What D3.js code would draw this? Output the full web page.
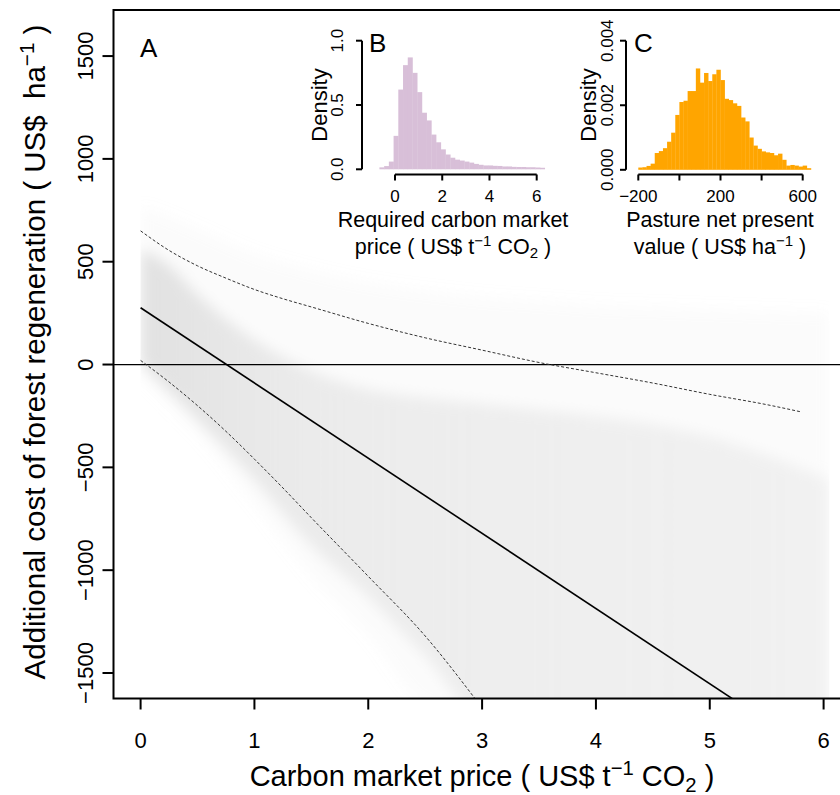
<!DOCTYPE html>
<html>
<head>
<meta charset="utf-8">
<script src="https://cdn.jsdelivr.net/npm/d3@7"></script>
<style>
    body { margin: 0; background: #fff; }
    svg { font-family: "Liberation Sans", Arial, sans-serif; }
    text { white-space: pre; }
</style>
</head>
<body>
<svg width="840" height="795"></svg>
<script>
// ---- panel A: point cloud, summarised per price column
const cloudX       = [0, 0.25, 0.5, 1, 1.5, 2, 2.5, 3, 3.5, 4, 4.5, 5, 5.5, 6.05];
const cloudOuterHi = [770, 720, 660, 540, 460, 400, 360, 330, 310, 290, 280, 270, 260, 250];
const cloudInnerHi = [560, 480, 340, 120, -30, -120, -160, -190, -220, -250, -290, -350, -440, -560];
const cloudInnerLo = [10, -130, -270, -560, -880, -1130, -1420, -1700, -1700, -1700, -1700, -1700, -1700, -1700];
const cloudOuterLo = [-60, -200, -340, -680, -1030, -1320, -1650, -1700, -1700, -1700, -1700, -1700, -1700, -1700];
const cloudDensity = [0.62, 0.6, 0.55, 0.46, 0.4, 0.37, 0.35, 0.33, 0.32, 0.3, 0.29, 0.28, 0.27, 0.25];

// fitted line and the two dashed bounds
const fitX = [0, 5.3];
const fitY = [276, -1662];
const upperX = [0, 0.25, 0.5, 0.75, 1, 1.25, 1.5, 2, 2.5, 3, 3.5, 4, 4.5, 5, 5.5, 5.8];
const upperY = [650, 555, 480, 420, 365, 320, 280, 200, 130, 70, 10, -40, -90, -145, -195, -230];
const lowerX = [0, 0.25, 0.5, 0.75, 1, 1.25, 1.5, 2, 2.5, 3];
const lowerY = [20, -85, -200, -325, -460, -600, -745, -1030, -1320, -1670];

const ticksAX = [0, 1, 2, 3, 4, 5, 6];
const ticksAY = [-1500, -1000, -500, 0, 500, 1000, 1500];

// ---- panel B: required carbon price histogram
const histBStart = -0.66;
const histBWidth = 0.2;
const histBDensity = [0.015, 0.025, 0.06, 0.26, 0.62, 0.81, 0.87, 0.75, 0.6, 0.44, 0.38, 0.27, 0.21,
    0.155, 0.115, 0.09, 0.075, 0.068, 0.06, 0.052, 0.042, 0.035, 0.03, 0.03, 0.027, 0.026, 0.022,
    0.022, 0.019, 0.018, 0.018, 0.016, 0.016, 0.014, 0.012];
const ticksBX = [0, 2, 4, 6];
const ticksBY = [0, 0.5, 1];
const labelsBY = ['0.0', '0.5', '1.0'];

// ---- panel C: pasture NPV histogram
const histCStart = -200;
const histCWidth = 20;
const histCDensity = [0.07, 0.08, 0.12, 0.19, 0.52, 0.58, 0.67, 0.87, 1.15, 1.7, 2.1, 2.14, 2.44, 2.44,
    3.14, 2.7, 3.0, 2.75, 2.96, 3.1, 2.78, 2.2, 2.16, 2.06, 1.98, 1.62, 1.5, 1.0, 0.75, 0.65, 0.57,
    0.54, 0.52, 0.45, 0.5, 0.31, 0.13, 0.15, 0.13, 0.1, 0.13, 0.05].map(d => d / 1000);
const ticksCX = [-200, 0, 200, 400, 600];
const labelsCX = ['\u2212200', '', '200', '', '600'];
const ticksCY = [0, 0.002, 0.004];
const labelsCY = ['0.000', '0.002', '0.004'];

const svg = d3.select('svg');
const defs = svg.append('defs');

// superscript / subscript helper
function richText(sel, parts, size) {
    let shift = 0;
    parts.forEach(p => {
        const target = p.sup ? -size * 0.38 : (p.sub ? size * 0.2 : 0);
        sel.append('tspan')
            .attr('dy', target - shift)
            .attr('font-size', (p.sup || p.sub) ? size * 0.7 : size)
            .text(p.text);
        shift = target;
    });
}

// ================= panel A =================
const x = d3.scaleLinear().domain([-0.238, 6.188]).range([113.5, 845]);
const y = d3.scaleLinear().domain([-1624, 1724]).range([698.5, 10]);

defs.append('clipPath').attr('id', 'clipA')
    .append('rect')
    .attr('x', x.range()[0]).attr('y', y.range()[1])
    .attr('width', x.range()[1] - x.range()[0])
    .attr('height', y.range()[0] - y.range()[1]);

// cloud only spans the simulated price range
defs.append('clipPath').attr('id', 'clipCloud')
    .append('rect')
    .attr('x', x(cloudX[0])).attr('y', y.range()[1])
    .attr('width', x(cloudX[cloudX.length - 1]) - x(cloudX[0]))
    .attr('height', y.range()[0] - y.range()[1]);

defs.append('filter').attr('id', 'soft')
    .attr('x', '-10%').attr('y', '-10%').attr('width', '120%').attr('height', '120%')
    .append('feGaussianBlur').attr('stdDeviation', 7);

const grad = defs.append('linearGradient')
    .attr('id', 'cloudGrad')
    .attr('gradientUnits', 'userSpaceOnUse')
    .attr('x1', x(cloudX[0])).attr('x2', x(cloudX[cloudX.length - 1]))
    .attr('y1', 0).attr('y2', 0);
grad.selectAll('stop')
    .data(cloudX)
    .enter()
    .append('stop')
    .attr('offset', d => (d - cloudX[0]) / (cloudX[cloudX.length - 1] - cloudX[0]))
    .attr('stop-color', '#d3d3d3')
    .attr('stop-opacity', (d, i) => cloudDensity[i]);

const plotA = svg.append('g').attr('clip-path', 'url(#clipA)');
const cloud = plotA.append('g').attr('clip-path', 'url(#clipCloud)')
    .append('g').attr('filter', 'url(#soft)');

const outerArea = d3.area()
    .x((d, i) => x(cloudX[i]))
    .y0((d, i) => y(cloudOuterLo[i]))
    .y1((d, i) => y(cloudOuterHi[i]))
    .curve(d3.curveMonotoneX);
const innerArea = d3.area()
    .x((d, i) => x(cloudX[i]))
    .y0((d, i) => y(cloudInnerLo[i]))
    .y1((d, i) => y(cloudInnerHi[i]))
    .curve(d3.curveMonotoneX);

cloud.append('path')
    .attr('d', outerArea(cloudX))
    .attr('fill', '#d3d3d3')
    .attr('fill-opacity', 0.1);
cloud.append('path')
    .attr('d', innerArea(cloudX))
    .attr('fill', 'url(#cloudGrad)');

// zero line
plotA.append('line')
    .attr('x1', x.range()[0]).attr('x2', x.range()[1])
    .attr('y1', y(0)).attr('y2', y(0))
    .attr('stroke', '#000')
    .attr('stroke-width', 1.3);

const lineGen = d3.line().curve(d3.curveMonotoneX);
plotA.append('path')
    .attr('d', lineGen(fitX.map((d, i) => [x(d), y(fitY[i])])))
    .attr('fill', 'none')
    .attr('stroke', '#000')
    .attr('stroke-width', 1.6);
plotA.append('path')
    .attr('d', lineGen(upperX.map((d, i) => [x(d), y(upperY[i])])))
    .attr('fill', 'none')
    .attr('stroke', '#333')
    .attr('stroke-width', 1)
    .attr('stroke-dasharray', '3,2');
plotA.append('path')
    .attr('d', lineGen(lowerX.map((d, i) => [x(d), y(lowerY[i])])))
    .attr('fill', 'none')
    .attr('stroke', '#333')
    .attr('stroke-width', 1)
    .attr('stroke-dasharray', '3,2');

// frame
svg.append('rect')
    .attr('x', x.range()[0]).attr('y', y.range()[1])
    .attr('width', x.range()[1] - x.range()[0])
    .attr('height', y.range()[0] - y.range()[1])
    .attr('fill', 'none')
    .attr('stroke', '#000')
    .attr('stroke-width', 2);

// axes of A
const axA = svg.append('g');
axA.selectAll('.xtick')
    .data(ticksAX)
    .enter()
    .append('line')
    .attr('x1', d => x(d)).attr('x2', d => x(d))
    .attr('y1', y.range()[0]).attr('y2', y.range()[0] + 11)
    .attr('stroke', '#000').attr('stroke-width', 2);
axA.selectAll('.xlab')
    .data(ticksAX)
    .enter()
    .append('text')
    .attr('x', d => x(d)).attr('y', 748)
    .attr('text-anchor', 'middle')
    .attr('font-size', 22)
    .text(d => d);
axA.selectAll('.ytick')
    .data(ticksAY)
    .enter()
    .append('line')
    .attr('x1', x.range()[0] - 11).attr('x2', x.range()[0])
    .attr('y1', d => y(d)).attr('y2', d => y(d))
    .attr('stroke', '#000').attr('stroke-width', 2);
axA.selectAll('.ylab')
    .data(ticksAY)
    .enter()
    .append('text')
    .attr('transform', d => 'translate(93,' + y(d) + ') rotate(-90)')
    .attr('text-anchor', 'middle')
    .attr('font-size', 22)
    .text(d => d < 0 ? '\u2212' + Math.abs(d) : d);

const xTitle = svg.append('text')
    .attr('x', 482).attr('y', 786)
    .attr('text-anchor', 'middle');
richText(xTitle, [
    { text: 'Carbon market price ( US$ t' }, { text: '\u22121', sup: true },
    { text: ' CO' }, { text: '2', sub: true }, { text: ' )' }
], 29);

const yTitle = svg.append('text')
    .attr('transform', 'translate(45,352) rotate(-90)')
    .attr('text-anchor', 'middle');
richText(yTitle, [
    { text: 'Additional cost of forest regeneration ( US$  ha' }, { text: '\u22121', sup: true },
    { text: ' )' }
], 29.5);

svg.append('text')
    .attr('x', 140).attr('y', 57)
    .attr('font-size', 26)
    .text('A');

// ================= inset helper =================
function inset(opt) {
    const g = svg.append('g');
    g.selectAll('rect')
        .data(opt.density)
        .enter()
        .append('rect')
        .attr('x', (d, i) => opt.x(opt.start + i * opt.width))
        .attr('width', (d, i) => opt.x(opt.start + (i + 1) * opt.width) - opt.x(opt.start + i * opt.width) + 0.3)
        .attr('y', d => opt.y(d))
        .attr('height', d => opt.y(0) - opt.y(d))
        .attr('fill', opt.color);

    const axY = opt.axisX;
    const axXpos = opt.axisY;
    const yT = opt.yTicks;
    g.append('line')
        .attr('x1', axY).attr('x2', axY)
        .attr('y1', opt.y(yT[0])).attr('y2', opt.y(yT[yT.length - 1]))
        .attr('stroke', '#000').attr('stroke-width', 2);
    g.selectAll('.yt')
        .data(yT)
        .enter()
        .append('line')
        .attr('x1', axY - 6).attr('x2', axY)
        .attr('y1', d => opt.y(d)).attr('y2', d => opt.y(d))
        .attr('stroke', '#000').attr('stroke-width', 2);
    g.selectAll('.yl')
        .data(yT)
        .enter()
        .append('text')
        .attr('transform', d => 'translate(' + opt.yLabelX + ',' + opt.y(d) + ') rotate(-90)')
        .attr('text-anchor', 'middle')
        .attr('font-size', 17)
        .text((d, i) => opt.yLabels[i]);

    const xT = opt.xTicks;
    g.append('line')
        .attr('x1', opt.x(xT[0])).attr('x2', opt.x(xT[xT.length - 1]))
        .attr('y1', axXpos).attr('y2', axXpos)
        .attr('stroke', '#000').attr('stroke-width', 2);
    g.selectAll('.xt')
        .data(xT)
        .enter()
        .append('line')
        .attr('x1', d => opt.x(d)).attr('x2', d => opt.x(d))
        .attr('y1', axXpos).attr('y2', axXpos + 6)
        .attr('stroke', '#000').attr('stroke-width', 2);
    g.selectAll('.xl')
        .data(xT)
        .enter()
        .append('text')
        .attr('x', d => opt.x(d)).attr('y', 202)
        .attr('text-anchor', 'middle')
        .attr('font-size', 17)
        .text((d, i) => opt.xLabels[i]);

    g.append('text')
        .attr('transform', 'translate(' + opt.densityX + ',105) rotate(-90)')
        .attr('text-anchor', 'middle')
        .attr('font-size', 22)
        .text('Density');

    g.append('text')
        .attr('x', opt.letterX).attr('y', 52)
        .attr('font-size', 26)
        .text(opt.letter);

    const t1 = g.append('text')
        .attr('x', opt.titleX).attr('y', 227)
        .attr('text-anchor', 'middle');
    richText(t1, opt.title1, 21.5);
    const t2 = g.append('text')
        .attr('x', opt.titleX).attr('y', 254)
        .attr('text-anchor', 'middle');
    richText(t2, opt.title2, 21.5);
}

// ================= panel B =================
inset({
    x: d3.scaleLinear().domain([0, 6]).range([395, 536.7]),
    y: d3.scaleLinear().domain([0, 1]).range([169.3, 40.7]),
    start: histBStart, width: histBWidth, density: histBDensity,
    color: 'thistle',
    axisX: 362, axisY: 174.5,
    yTicks: ticksBY, yLabels: labelsBY, yLabelX: 343,
    xTicks: ticksBX, xLabels: ticksBX.map(String),
    densityX: 327, letter: 'B', letterX: 369,
    titleX: 453,
    title1: [{ text: 'Required carbon market' }],
    title2: [{ text: 'price ( US$ t' }, { text: '\u22121', sup: true }, { text: ' CO' },
        { text: '2', sub: true }, { text: ' )' }]
});

// ================= panel C =================
inset({
    x: d3.scaleLinear().domain([-200, 600]).range([638.3, 802.7]),
    y: d3.scaleLinear().domain([0, 0.004]).range([169.8, 40.7]),
    start: histCStart, width: histCWidth, density: histCDensity,
    color: 'orange',
    axisX: 626, axisY: 174.5,
    yTicks: ticksCY, yLabels: labelsCY, yLabelX: 613,
    xTicks: ticksCX, xLabels: labelsCX,
    densityX: 596, letter: 'C', letterX: 634,
    titleX: 720,
    title1: [{ text: 'Pasture net present' }],
    title2: [{ text: 'value ( US$ ha' }, { text: '\u22121', sup: true }, { text: ' )' }]
});
</script>
</body>
</html>
